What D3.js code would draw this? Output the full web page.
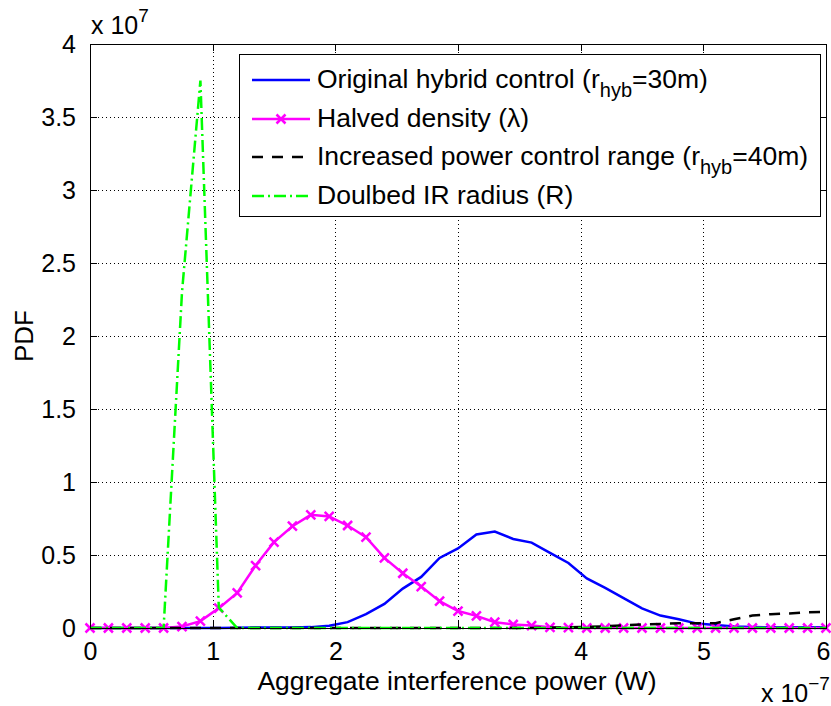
<!DOCTYPE html>
<html lang="en">
<head>
    <meta charset="UTF-8">
    <title>Aggregate interference PDF</title>
    <style>
        body {
            margin: 0;
            background-color: #ffffff;
        }
        svg {
            display: block;
            font-family: "Liberation Sans", Arial, sans-serif;
        }
        .grid line {
            stroke: #000;
            stroke-width: 1;
            stroke-dasharray: 1,3;
            shape-rendering: crispEdges;
        }
        .grid path {
            display: none;
        }
        .axis path {
            display: none;
        }
        .axis line {
            stroke: #000;
            shape-rendering: crispEdges;
        }
        .axis text {
            font-size: 25px;
            fill: #000;
        }
    </style>
</head>
<body>
<script src="https://d3js.org/d3.v7.min.js"></script>
<script>
    // sample points of the power axis (units of 1e-7 W)
    var power = [0, 0.15, 0.3, 0.45, 0.6, 0.75, 0.9, 1.05, 1.2, 1.35,
                 1.5, 1.65, 1.8, 1.95, 2.1, 2.25, 2.4, 2.55, 2.7, 2.85,
                 3.0, 3.15, 3.3, 3.45, 3.6, 3.75, 3.9, 4.05, 4.2, 4.35,
                 4.5, 4.65, 4.8, 4.95, 5.1, 5.25, 5.4, 5.55, 5.7, 5.85, 6.0];

    // PDF values (units of 1e7)
    var original = [0, 0, 0, 0, 0, 0, 0, 0, 0.002, 0.003,
                    0.003, 0.004, 0.006, 0.015, 0.04, 0.095, 0.165, 0.27, 0.35, 0.48,
                    0.545, 0.64, 0.66, 0.61, 0.585, 0.515, 0.445, 0.34, 0.275, 0.205,
                    0.135, 0.085, 0.06, 0.03, 0.02, 0.01, 0.007, 0.005, 0.005, 0.005, 0.005];

    var halved = [0, 0, 0, 0, 0, 0.01, 0.047, 0.136, 0.24, 0.428,
                  0.588, 0.697, 0.775, 0.764, 0.702, 0.622, 0.48, 0.375, 0.284, 0.184,
                  0.116, 0.083, 0.04, 0.024, 0.017, 0.005, 0.002, 0, 0, 0,
                  0, 0, 0, 0, 0, 0, 0, 0, 0, 0, 0];

    var increased = [0, 0, 0, 0, 0, 0, 0, 0, 0, 0,
                     0, 0, 0, 0, 0, 0, 0, 0, 0, 0,
                     0, 0, 0, 0, 0, 0.003, 0.005, 0.008, 0.012, 0.018,
                     0.024, 0.028, 0.032, 0.033, 0.033, 0.06, 0.085, 0.095, 0.1, 0.108, 0.11];

    var doubled = [0, 0, 0, 0, 0, 2.3, 3.75, 0.14, 0, 0,
                   0, 0, 0, 0, 0, 0, 0, 0, 0, 0,
                   0, 0, 0, 0, 0, 0, 0, 0, 0, 0,
                   0, 0, 0, 0, 0, 0, 0, 0, 0, 0, 0];

    var xTicks = [0, 1, 2, 3, 4, 5, 6];
    var xTickLabels = ["0", "1", "2", "3", "4", "5", "6"];
    var yTicks = [0, 0.5, 1, 1.5, 2, 2.5, 3, 3.5, 4];
    var yTickLabels = ["0", "0.5", "1", "1.5", "2", "2.5", "3", "3.5", "4"];

    var legendNames = ["Original hybrid control (r", "Halved density (\u03bb)", "Increased power control range (r", "Doulbed IR radius (R)"];

    var margin = {top: 44, right: 5, bottom: 78, left: 90},
        width = 831 - margin.left - margin.right,
        height = 706 - margin.top - margin.bottom;

    var svg = d3.select("body").append("svg")
        .attr("width", 831)
        .attr("height", 706);

    var g = svg.append("g")
        .attr("transform", "translate(" + margin.left + "," + margin.top + ")");

    var xScale = d3.scaleLinear().domain([0, 6]).range([0, width]);
    var yScale = d3.scaleLinear().domain([0, 4]).range([height, 0]);

    // dotted grid
    g.append("g")
        .attr("class", "grid")
        .call(d3.axisBottom(xScale).tickValues(xTicks.slice(1, -1)).tickSize(height).tickFormat(""));
    g.append("g")
        .attr("class", "grid")
        .call(d3.axisLeft(yScale).tickValues(yTicks.slice(1, -1)).tickSize(-width).tickFormat(""));

    // series
    var series = [
        {values: original, color: "#0000ff", dash: null, marker: false},
        {values: halved, color: "#ff00ff", dash: null, marker: true},
        {values: increased, color: "#000000", dash: "11,9", marker: false},
        {values: doubled, color: "#00ff00", dash: "12,4,2,4", marker: false}
    ];

    var line = d3.line()
        .x(function(d) { return xScale(d[0]); })
        .y(function(d) { return yScale(d[1]); });

    function markerPath(s) {
        return "M" + (-s) + "," + (-s) + "L" + s + "," + s + "M" + (-s) + "," + s + "L" + s + "," + (-s);
    }

    series.forEach(function(s) {
        var pts = power.map(function(p, i) { return [p, s.values[i]]; });
        g.append("path")
            .datum(pts)
            .attr("fill", "none")
            .attr("stroke", s.color)
            .attr("stroke-width", 2.5)
            .attr("stroke-dasharray", s.dash)
            .attr("d", line);
        if (s.marker) {
            g.selectAll(".mk")
                .data(pts)
                .enter().append("path")
                .attr("transform", function(d) { return "translate(" + xScale(d[0]) + "," + yScale(d[1]) + ")"; })
                .attr("d", markerPath(4.5))
                .attr("stroke", s.color)
                .attr("stroke-width", 2.5);
        }
    });

    // axes with inward ticks on all sides
    var xAxis = g.append("g")
        .attr("class", "axis")
        .attr("transform", "translate(0," + height + ")")
        .call(d3.axisBottom(xScale).tickValues(xTicks)
            .tickFormat(function(d, i) { return xTickLabels[i]; })
            .tickSize(-7).tickPadding(14));
    // keep the last label inside the page
    xAxis.selectAll("text").filter(function(d) { return d === 6; }).attr("dx", -3);

    g.append("g")
        .attr("class", "axis")
        .call(d3.axisTop(xScale).tickValues(xTicks).tickSize(-7).tickFormat(""));
    g.append("g")
        .attr("class", "axis")
        .call(d3.axisLeft(yScale).tickValues(yTicks)
            .tickFormat(function(d, i) { return yTickLabels[i]; })
            .tickSize(-7).tickPadding(14));
    g.append("g")
        .attr("class", "axis")
        .attr("transform", "translate(" + width + ",0)")
        .call(d3.axisRight(yScale).tickValues(yTicks).tickSize(-7).tickFormat(""));

    g.append("rect")
        .attr("width", width)
        .attr("height", height)
        .attr("fill", "none")
        .attr("stroke", "#000")
        .attr("stroke-width", 1)
        .attr("shape-rendering", "crispEdges");

    // axis labels
    svg.append("text")
        .attr("text-anchor", "middle")
        .attr("font-size", 26.5)
        .attr("x", margin.left + width / 2 - 1)
        .attr("y", 690)
        .text("Aggregate interference power (W)");

    svg.append("text")
        .attr("text-anchor", "middle")
        .attr("font-size", 26)
        .attr("transform", "translate(33," + (margin.top + height / 2) + ") rotate(-90)")
        .text("PDF");

    // exponent labels
    var expTop = svg.append("text")
        .attr("font-size", 25)
        .attr("x", 91)
        .attr("y", 34)
        .text("x 10");
    expTop.append("tspan")
        .attr("font-size", 19)
        .attr("dy", -12)
        .text("7");

    var expBottom = svg.append("text")
        .attr("font-size", 25)
        .attr("x", 761)
        .attr("y", 702)
        .text("x 10");
    expBottom.append("tspan")
        .attr("font-size", 19)
        .attr("dy", -12)
        .text("\u22127");

    // legend
    var legend = svg.append("g")
        .attr("transform", "translate(239,54)");

    legend.append("rect")
        .attr("width", 581)
        .attr("height", 162)
        .attr("fill", "#fff")
        .attr("stroke", "#000")
        .attr("stroke-width", 1)
        .attr("shape-rendering", "crispEdges");

    var rowY = [26, 65, 103, 142];

    series.forEach(function(s, i) {
        legend.append("line")
            .attr("x1", 13).attr("x2", 71)
            .attr("y1", rowY[i]).attr("y2", rowY[i])
            .attr("stroke", s.color)
            .attr("stroke-width", 2.5)
            .attr("stroke-dasharray", s.dash);
        if (s.marker) {
            legend.append("path")
                .attr("transform", "translate(42," + rowY[i] + ")")
                .attr("d", markerPath(4.5))
                .attr("stroke", s.color)
                .attr("stroke-width", 2.5);
        }
        var t = legend.append("text")
            .attr("font-size", 26.5)
            .attr("x", 78)
            .attr("y", rowY[i] + 8)
            .text(legendNames[i]);
        if (i === 0 || i === 2) {
            t.append("tspan")
                .attr("font-size", 20)
                .attr("dy", 9)
                .text("hyb");
            t.append("tspan")
                .attr("dy", -9)
                .text(i === 0 ? "=30m)" : "=40m)");
        }
    });
</script>
</body>
</html>
